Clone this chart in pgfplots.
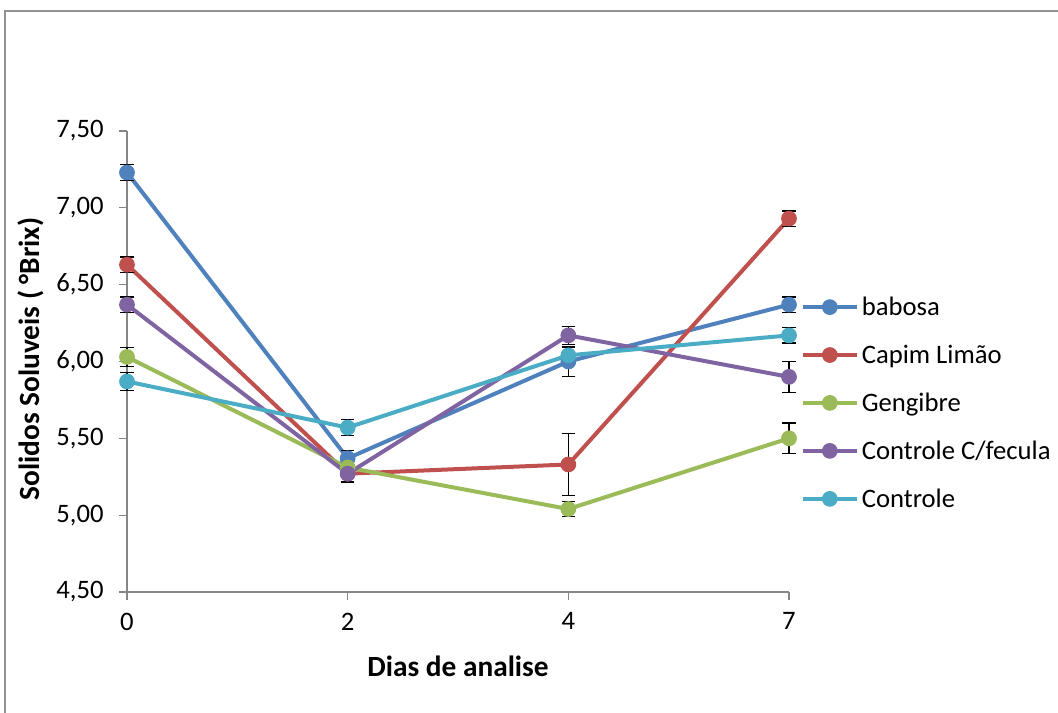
\documentclass[border=0pt]{standalone}
\usepackage{pgfplots}
\pgfplotsset{compat=1.18}
\usepackage{fontspec}
\setmainfont{Carlito}
\definecolor{cBlue}{HTML}{4F81BD}
\definecolor{cRed}{HTML}{C0504D}
\definecolor{cGreen}{HTML}{9BBB59}
\definecolor{cPurple}{HTML}{8064A2}
\definecolor{cAqua}{HTML}{4BACC6}
\definecolor{axgray}{HTML}{868686}
\begin{document}
\begin{tikzpicture}
\useasboundingbox (0pt,0pt) rectangle (793.5pt,-534.75pt);
\draw[color=axgray!90,line width=1.6pt] (3.9pt,-540pt) -- (3.9pt,-8.4pt) -- (800pt,-8.4pt);
\begin{axis}[
  at={(95.25pt,-444pt)}, anchor=south west,
  scale only axis, width=496.5pt, height=345.75pt,
  xmin=0, xmax=3, ymin=4.5, ymax=7.5,
  axis lines*=left,
  axis line style={axgray, line width=0.8pt},
  xtick={0,1,2,3}, xticklabels={0,2,4,7},
  ytick={4.5,5,5.5,6,6.5,7,7.5},
  yticklabels={{4,50},{5,00},{5,50},{6,00},{6,50},{7,00},{7,50}},
  tick style={axgray, line width=0.8pt},
  tick align=outside, major tick length=6pt,
  ticklabel style={font=\fontsize{20}{24}\selectfont, black},
  yticklabel style={xshift=-8pt},
  xticklabel style={yshift=-6pt},
  xlabel={\textbf{Dias de analise}},
  xlabel style={font=\fontsize{22}{26}\selectfont, at={(rel axis cs:0.5,0)}, anchor=center, yshift=-56pt},
  clip=false,
  every axis plot/.append style={line width=3pt, mark=*, mark size=5.5pt,
     error bars/y dir=both, error bars/y explicit,
     error bars/error bar style={black, line width=0.9pt},
     error bars/error mark options={rotate=90, black, mark size=5pt, line width=0.9pt}},
  legend style={draw=none, fill=none, at={(rel axis cs:1.017,0.41)}, anchor=west,
     font=\fontsize{20}{24}\selectfont, row sep=16.6pt, inner sep=0pt},
  legend cell align=left,
  legend image code/.code={\draw[mark repeat=2,mark phase=2] plot coordinates {(0cm,0cm) (0.72cm,0cm) (1.44cm,0cm)};},
]
\addplot[cBlue, mark options={fill=cBlue, draw=cBlue, line width=0.8pt}] coordinates {(0,7.23) +- (0,0.05) (1,5.37) +- (0,0.05) (2,6.00) +- (0,0.1) (3,6.37) +- (0,0.05)};
\addlegendentry{babosa}
\addplot[cRed, mark options={fill=cRed, draw=cRed, line width=0.8pt}] coordinates {(0,6.63) +- (0,0.05) (1,5.27) +- (0,0.05) (2,5.33) +- (0,0.2) (3,6.93) +- (0,0.05)};
\addlegendentry{Capim Limão}
\addplot[cGreen, mark options={fill=cGreen, draw=cGreen, line width=0.8pt}] coordinates {(0,6.03) +- (0,0.06) (1,5.31) +- (0,0.05) (2,5.04) +- (0,0.05) (3,5.50) +- (0,0.1)};
\addlegendentry{Gengibre}
\addplot[cPurple, mark options={fill=cPurple, draw=cPurple, line width=0.8pt}] coordinates {(0,6.37) +- (0,0.05) (1,5.27) +- (0,0.06) (2,6.17) +- (0,0.06) (3,5.90) +- (0,0.1)};
\addlegendentry{Controle C/fecula}
\addplot[cAqua, mark options={fill=cAqua, draw=cAqua, line width=0.8pt}] coordinates {(0,5.87) +- (0,0.06) (1,5.57) +- (0,0.05) (2,6.04) +- (0,0.05) (3,6.17) +- (0,0.05)};
\addlegendentry{Controle}
\end{axis}
\node[rotate=90, font=\fontsize{22}{26}\selectfont\bfseries] at (23.25pt,-269.25pt) {Solidos Soluveis ( °Brix)};
\end{tikzpicture}
\end{document}
